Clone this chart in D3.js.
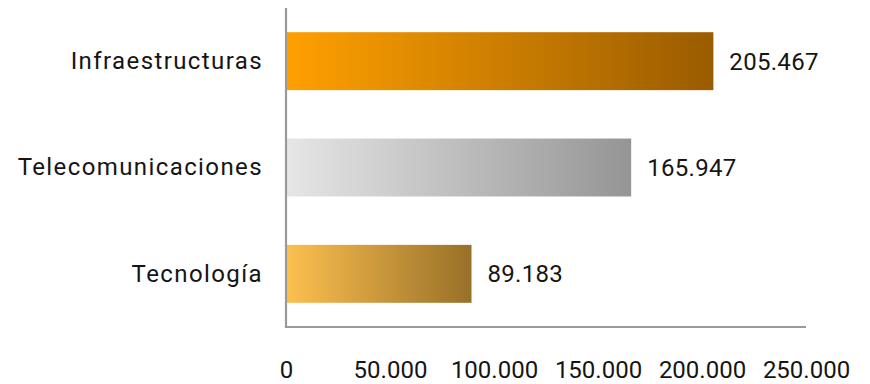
<!DOCTYPE html>
<html>
<head>
<meta charset="utf-8">
<script src="https://cdn.jsdelivr.net/npm/d3@7"></script>
<style>
  html, body { margin: 0; padding: 0; background: #fff; }
  svg { display: block; font-family: Roboto, "Noto Sans", sans-serif; }
</style>
</head>
<body>
<svg id="chart" width="870" height="384"></svg>
<script>
// Inversión por sector
const categories = ["Infraestructuras", "Telecomunicaciones", "Tecnología"];
const values = [205467, 165947, 89183];
const tickValues = [0, 50000, 100000, 150000, 200000, 250000];
const tickLabels = ["0", "50.000", "100.000", "150.000", "200.000", "250.000"];
const gradientStops = [
  ["#ffa000", "#9a5c00"],
  ["#e6e6e6", "#959595"],
  ["#fdc050", "#987028"]
];

const svg = d3.select("#chart");
const margin = { left: 286, right: 64, top: 8, bottom: 57 };
const W = 870, H = 384;
const textColor = "#151515";
const fontWeight = 400;

const x = d3.scaleLinear()
  .domain([0, 250000])
  .range([margin.left, W - margin.right]);

const y = d3.scaleBand()
  .domain(categories)
  .range([margin.top, H - margin.bottom])
  .paddingInner(0.455)
  .paddingOuter(0.2275);

// horizontal gradients for each bar
const defs = svg.append("defs");
categories.forEach((c, i) => {
  const g = defs.append("linearGradient")
    .attr("id", "grad" + i)
    .attr("x1", "0%").attr("x2", "100%")
    .attr("y1", "0%").attr("y2", "0%");
  g.append("stop").attr("offset", "0%").attr("stop-color", gradientStops[i][0]);
  g.append("stop").attr("offset", "100%").attr("stop-color", gradientStops[i][1]);
});

// bars
svg.append("g").selectAll("rect")
  .data(values)
  .join("rect")
  .attr("x", x(0))
  .attr("y", (d, i) => y(categories[i]))
  .attr("width", d => x(d) - x(0))
  .attr("height", y.bandwidth())
  .attr("fill", (d, i) => `url(#grad${i})`);

// value labels
const fmt = v => d3.format(",")(v).replace(/,/g, ".");
svg.append("g").selectAll("text")
  .data(values)
  .join("text")
  .attr("x", d => x(d) + 16)
  .attr("y", (d, i) => y(categories[i]) + y.bandwidth() / 2)
  .attr("dy", "0.36em")
  .attr("font-size", 24)
  .attr("font-weight", fontWeight)
  .attr("letter-spacing", 0.3)
  .attr("fill", textColor)
  .text(d => fmt(d));

// category axis
const yAxis = svg.append("g")
  .attr("transform", `translate(${x(0)},0)`)
  .call(d3.axisLeft(y).tickSize(0).tickPadding(23));
yAxis.select(".domain").remove();
yAxis.selectAll("text")
  .attr("font-size", 24)
  .attr("font-weight", fontWeight)
  .attr("letter-spacing", 1.4)
  .attr("font-family", "Roboto, 'Noto Sans', sans-serif")
  .attr("fill", textColor);

// value axis
const xAxis = svg.append("g")
  .attr("transform", `translate(0,${H - margin.bottom})`)
  .call(d3.axisBottom(x).tickValues(tickValues)
    .tickFormat((d, i) => tickLabels[i]).tickSize(0).tickPadding(34));
xAxis.select(".domain").remove();
xAxis.selectAll("text")
  .attr("font-size", 24)
  .attr("font-weight", fontWeight)
  .attr("font-family", "Roboto, 'Noto Sans', sans-serif")
  .attr("fill", textColor);

// axis lines
svg.append("line")
  .attr("x1", x(0)).attr("x2", x(0))
  .attr("y1", margin.top).attr("y2", H - margin.bottom + 1)
  .attr("stroke", "#9a9a9a").attr("stroke-width", 2.2);
svg.append("line")
  .attr("x1", x(0) - 1).attr("x2", x(250000))
  .attr("y1", H - margin.bottom).attr("y2", H - margin.bottom)
  .attr("stroke", "#9a9a9a").attr("stroke-width", 2.2);
</script>
</body>
</html>
